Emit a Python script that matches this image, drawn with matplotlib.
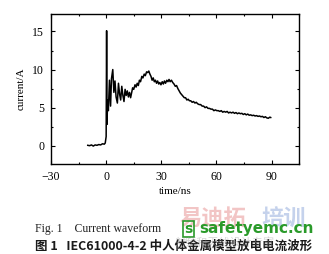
import matplotlib
matplotlib.use("Agg")
from matplotlib import pyplot as plt
from matplotlib.ticker import MultipleLocator
import numpy as np

# waveform (time in ns, current in A)
time_ns = [-10, -9, -8, -7, -6, -5, -4, -3, -2, -1, -0.5, 0.0,
           0.25, 0.45, 0.8, 1.2, 1.8, 2.4, 2.9, 3.6, 4.2, 4.8, 5.4, 6.1, 6.7, 7.3,
           7.9, 8.5, 9.1, 9.7, 10.3, 10.9, 11.5, 12.1, 12.7, 13.3, 13.9, 14.4, 15.0,
           15.7, 16.3, 16.9, 17.5, 18.1, 18.7, 19.4, 20.0, 20.7, 21.3, 22.0, 22.6,
           23.2, 23.8, 24.4, 25.0, 25.6, 26.2, 26.8, 27.4, 28.0, 28.6, 29.2, 29.8,
           30.5, 31.1, 31.7, 32.3, 33.0, 33.6, 34.2, 34.8, 35.5, 36.2, 36.9, 37.6,
           38.3, 39.0, 39.7, 40.4, 41.1, 41.8, 42.5, 43.2, 43.9, 44.6, 45.3, 46.0,
           46.8, 47.5, 48.3, 49.0, 49.8, 50.6, 51.4, 52.2, 53.0, 53.8, 54.6, 55.4,
           56.2, 57.0, 57.8, 58.6, 59.4, 60.2, 61.0, 61.8, 62.6, 63.4, 64.2, 65.0,
           65.8, 66.6, 67.4, 68.2, 69.0, 69.8, 70.6, 71.4, 72.2, 73.0, 73.8, 74.6,
           75.4, 76.2, 77.0, 77.8, 78.6, 79.4, 80.2, 81.0, 81.8, 82.6, 83.4, 84.2,
           85.0, 85.8, 86.6, 87.4, 88.2, 89.0, 89.5]
current_A = [0.05, 0.0, 0.1, -0.05, 0.1, 0.05, 0.15, 0.1, 0.25, 0.2, 0.35, 1.2,
             15.1, 2.8, 6.0, 4.6, 8.6, 5.2, 8.8, 10.0, 7.0, 8.5, 6.4, 5.6, 8.2, 6.8,
             6.0, 7.8, 6.6, 5.8, 7.4, 6.6, 7.2, 6.4, 7.0, 6.3, 7.0, 7.6, 7.4,
             8.0, 7.7, 8.2, 7.9, 8.6, 8.4, 9.1, 8.9, 9.4, 9.2, 9.7, 9.6,
             9.8, 9.4, 9.1, 8.6, 8.9, 8.4, 8.6, 8.2, 8.5, 8.1, 8.3, 8.0,
             8.4, 8.1, 8.5, 8.2, 8.6, 8.4, 8.7, 8.4, 8.6, 8.3, 8.1, 7.8,
             7.9, 7.5, 7.2, 6.9, 6.7, 6.5, 6.3, 6.3, 6.0, 6.1, 5.9, 5.9,
             5.7, 5.8, 5.6, 5.7, 5.5, 5.4, 5.4, 5.2, 5.2, 5.0, 5.1, 4.9,
             4.9, 4.8, 4.8, 4.6, 4.7, 4.6, 4.6, 4.5, 4.6, 4.4, 4.5, 4.4,
             4.5, 4.3, 4.4, 4.3, 4.4, 4.25, 4.35, 4.2, 4.3, 4.2, 4.25, 4.1,
             4.2, 4.05, 4.15, 4.0, 4.05, 3.95, 4.0, 3.9, 3.95, 3.85, 3.9, 3.8,
             3.85, 3.7, 3.8, 3.65, 3.6, 3.75, 3.7]

x_ticks = [-30, 0, 30, 60, 90]
y_ticks = [0, 5, 10, 15]

serif = ["Liberation Serif", "DejaVu Serif"]
cjk = ["Noto Sans CJK SC", "DejaVu Sans"]

fig = plt.figure(figsize=(3.29, 2.54), dpi=100)
ax = fig.add_axes([0.155, 0.353, 0.755, 0.592])

ax.plot(time_ns, current_A, color="black", linewidth=1.1)

ax.set_xlim(-30.0, 105.1)
ax.set_ylim(-2.45, 17.3)
ax.set_xticks(x_ticks)
ax.set_yticks(y_ticks)
ax.xaxis.set_minor_locator(MultipleLocator(15))
ax.yaxis.set_minor_locator(MultipleLocator(2.5))
ax.tick_params(which="both", direction="in", top=True, right=True, width=0.8)
ax.tick_params(which="major", length=3, labelsize=8.5, pad=5)
ax.tick_params(which="minor", length=1.5)
for lab in ax.get_xticklabels() + ax.get_yticklabels():
    lab.set_family(serif)
for s in ax.spines.values():
    s.set_linewidth(1.0)

ax.set_xlabel("time/ns", fontsize=8, family=serif, labelpad=3)
ax.set_ylabel("current/A", fontsize=8, family=serif, labelpad=5)

# captions
fig.text(0.105, 0.087, "Fig. 1    Current waveform", fontsize=8.5, family=serif, color="#222222")
fig.text(0.105, 0.018, "图 1   IEC61000-4-2 中人体金属模型放电电流波形", fontsize=9,
         family=cjk, color="#1a1a1a", fontweight="bold")

# watermark
fig.text(0.545, 0.112, "易迪拓", fontsize=16, family=cjk, color="#e07070", alpha=0.4, fontweight="bold")
fig.text(0.795, 0.112, "培训", fontsize=16, family=cjk, color="#7090d0", alpha=0.4, fontweight="bold")
fig.text(0.56, 0.083, "s", fontsize=10, color="#2a9a2a", fontweight="bold",
         bbox=dict(boxstyle="square,pad=0.1", fc="none", ec="#2a9a2a", lw=1.2))
fig.text(0.605, 0.083, "safetyemc.cn", fontsize=11, color="#2a9a2a", fontweight="bold")
fig.text(0.53, 0.03, "射频和天线设计专家", fontsize=8, family=cjk, color="#999999", alpha=0.4)

fig.savefig("out.png", dpi=100)
